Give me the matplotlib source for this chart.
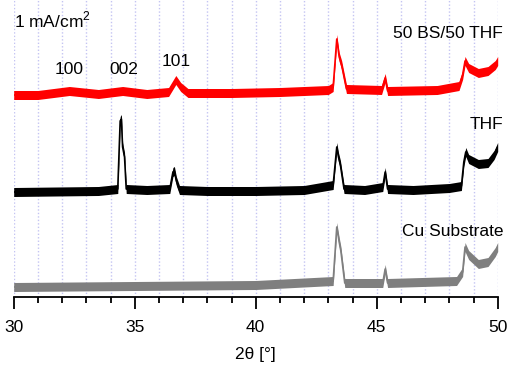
import numpy as np
import matplotlib
matplotlib.use("Agg")
import matplotlib.pyplot as plt
from matplotlib.ticker import MultipleLocator

plt.rcParams['font.family'] = ['Liberation Sans', 'DejaVu Sans']
plt.rcParams['mathtext.fontset'] = 'custom'
plt.rcParams['mathtext.rm'] = 'Liberation Sans'

# Stacked XRD patterns (offset intensity, arbitrary units)
red_2theta = [30, 31, 32.3, 33.5, 34.5, 35.5, 36.4, 36.7, 36.9, 37.2, 39, 41, 43.0, 43.2,
              43.35, 43.45, 43.55, 43.75, 45.2, 45.35, 45.45, 47.5, 48.4, 48.55, 48.65,
              48.8, 49.2, 49.6, 49.9, 50]
red_int = [202, 202, 206, 203, 206, 203, 205, 217, 210, 204, 204, 205, 207, 210,
           258, 240, 232, 208, 207, 219, 206, 207, 211, 222, 236,
           229, 224, 226, 232, 236]

black_2theta = [30, 33.5, 34.3, 34.4, 34.45, 34.5, 34.58, 34.65, 35.5, 36.45, 36.58, 36.64,
                36.72, 36.85, 38, 40, 42, 43.2, 43.35, 43.42, 43.5, 43.65, 44.5, 45.25,
                45.35, 45.45, 46.5, 48.0, 48.5, 48.6, 48.68, 48.8, 49.2, 49.6, 49.85, 50]
black_int = [105, 106, 108, 176, 178, 150, 140, 108, 107, 108, 125, 126,
             116, 107, 106, 106, 107, 112, 150, 140, 132, 108, 107, 110,
             125, 108, 107, 109, 111, 135, 145, 138, 133, 134, 142, 150]

gray_2theta = [30, 35, 40, 43.2, 43.35, 43.45, 43.52, 43.68, 45.25, 45.35, 45.45, 48.3,
               48.55, 48.65, 48.8, 49.2, 49.6, 49.9, 50]
gray_int = [10, 11, 12, 16, 70, 55, 46, 14, 14, 28, 14, 16,
            25, 50, 42, 33, 35, 45, 50]

series = [
    (red_2theta, red_int, '#ff0000'),
    (black_2theta, black_int, '#000000'),
    (gray_2theta, gray_int, '#7f7f7f'),
]

fig = plt.figure(figsize=(5.1, 3.67), dpi=100)
ax = fig.add_axes([13.7 / 510, 1 - 297 / 367, (497.7 - 13.7) / 510, 297 / 367])

# noisy traces: a ribbon of the noise band plus the centre line
for tt, ii, col in series:
    tt = np.array(tt)
    ii = np.array(ii)
    ax.fill_between(tt, ii - 4.5, ii + 4.5, color=col, lw=0)
    ax.plot(tt, ii, color=col, lw=1.2)

ax.set_xlim(30, 50)
ax.set_ylim(0, 297)
ax.xaxis.set_major_locator(MultipleLocator(5))
ax.xaxis.set_minor_locator(MultipleLocator(1))
ax.grid(which='both', axis='x', color='#c4c4f2', linestyle=(0, (1, 1.5)), lw=1)
ax.set_axisbelow(True)

for s in ['left', 'right', 'top']:
    ax.spines[s].set_visible(False)
ax.spines['bottom'].set_linewidth(1.3)
ax.set_yticks([])
ax.tick_params(axis='x', which='major', direction='out', length=8.5, width=1.3,
               labelsize=12.5, pad=8)
ax.tick_params(axis='x', which='minor', direction='out', length=4.3, width=1.3)
ax.set_xlabel('2θ [°]', fontsize=12.5, labelpad=9)

fs = 12.5
ax.text(30, 277, '1 mA/cm$^2$', fontsize=fs, ha='left', va='center')
ax.text(32.29, 227, '100', fontsize=fs, ha='center', va='center')
ax.text(34.55, 228, '002', fontsize=fs, ha='center', va='center')
ax.text(36.73, 235.5, '101', fontsize=fs, ha='center', va='center')
ax.text(50.22, 263, '50 BS/50 THF', fontsize=fs, ha='right', va='center', clip_on=False)
ax.text(50.22, 172.5, 'THF', fontsize=fs, ha='right', va='center', clip_on=False)
ax.text(50.22, 65, 'Cu Substrate', fontsize=fs, ha='right', va='center', clip_on=False)

fig.savefig('out.png', dpi=100)
